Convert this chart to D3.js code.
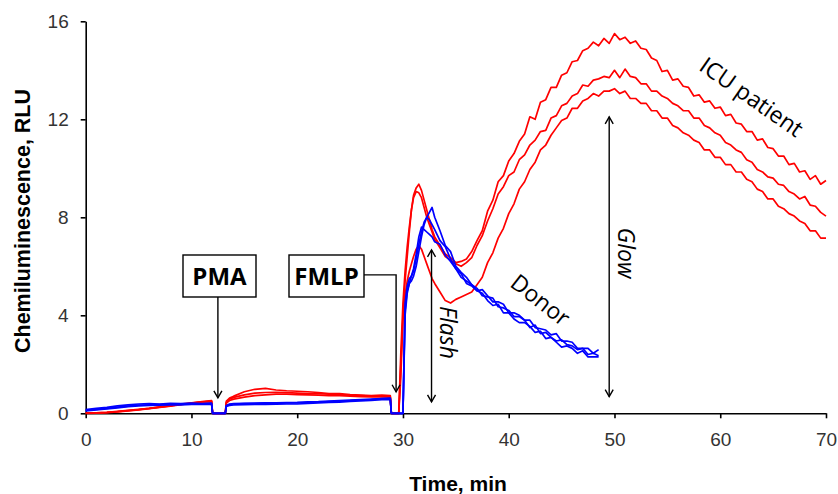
<!DOCTYPE html>
<html><head><meta charset="utf-8">
<script src="https://cdn.jsdelivr.net/npm/d3@7"></script>
<style>body{margin:0;background:#fff}svg{display:block}</style>
</head><body><svg id="c" width="838" height="494"></svg>
<script>
// ---- DATA ----
const time = [0,1,2,3,4,5,6,7,8,9,10,11,11.9,12,13.2,13.3,13.6,14,15,16,17,18,19,20,21,22,23,24,25,26,27,28,28.8,28.9,
  29.6,29.8,30,30.2,30.4,30.6,30.8,31,31.25,31.5,31.75,32,32.25,32.5,32.75,33,
  33.5,34,34.5,35,35.5,36,36.5,37,37.5,38,38.5,39,39.5,40,40.5,41,41.5,42,42.5,43,43.5,44,44.5,45,45.5,46,46.5,47,47.5,48,48.5,
  49,49.5,50,50.5,51,51.5,52,52.5,53,53.5,54,54.5,55,55.5,56,56.5,57,57.5,58,58.5,59,59.5,60,60.5,61,61.5,62,62.5,63,63.5,64,64.5,65,65.5,66,66.5,67,67.5,68,68.5,69,69.5,70];

const icu1 = [0.02,0.02,0.04,0.08,0.12,0.16,0.2,0.25,0.3,0.36,0.42,0.48,0.52,0,0,0.5,0.62,0.7,0.88,0.98,1.02,0.95,0.92,0.9,0.88,0.85,0.8,0.8,0.76,0.74,0.72,0.74,0.72,0,
  0,1.5,4.0,5.4,6.4,7.4,8.3,8.9,9.2,9.35,9.1,8.7,8.3,7.9,7.5,7.2,
  6.85,6.5,6.35,6.15,6.2,6.3,6.6,7.05,7.45,8.25,8.7,9.45,9.7,10.3,10.6,11.1,11.4,12.1,12.0,12.7,12.8,13.3,13.3,13.8,13.9,14.35,14.4,14.8,14.9,15.15,15.0,
  15.3,15.1,15.5,15.25,15.35,15.1,15.2,14.9,14.85,14.5,14.4,13.95,14.0,13.6,13.65,13.35,13.3,12.95,13.0,12.7,12.75,12.45,12.5,12.15,12.2,11.85,11.8,11.5,11.5,11.15,11.2,10.85,10.8,10.5,10.5,10.15,10.2,9.85,9.9,9.55,9.7,9.35,9.5];

const icu2 = [0,0.01,0.03,0.06,0.1,0.14,0.19,0.24,0.29,0.35,0.41,0.46,0.5,0,0,0.45,0.58,0.65,0.75,0.82,0.85,0.86,0.84,0.82,0.8,0.8,0.78,0.76,0.74,0.72,0.7,0.7,0.68,0,
  0,2.5,4.5,5.8,6.8,7.6,8.3,8.8,9.05,9.0,8.8,8.4,8.0,7.7,7.4,7.1,
  6.75,6.4,6.25,6.1,6.0,6.15,6.35,6.85,7.25,7.85,8.35,8.95,9.25,9.7,9.85,10.35,10.55,10.95,11.15,11.5,11.55,12.05,12.15,12.55,12.65,12.95,13.05,13.4,13.35,13.6,13.65,
  13.75,13.7,14.0,13.7,14.05,13.75,13.7,13.45,13.45,13.15,13.15,12.95,12.85,12.65,12.55,12.35,12.35,12.05,12.05,11.75,11.65,11.45,11.35,11.05,10.95,10.75,10.65,10.35,10.25,9.95,9.85,9.65,9.6,9.35,9.3,9.05,8.95,8.75,8.85,8.5,8.45,8.2,8.05];

const icu3 = [0.01,0.02,0.04,0.07,0.11,0.15,0.2,0.26,0.31,0.38,0.43,0.47,0.48,0,0,0.42,0.52,0.58,0.66,0.72,0.75,0.78,0.78,0.76,0.75,0.74,0.72,0.72,0.7,0.68,0.67,0.68,0.66,0,
  0,2.0,3.8,4.8,5.4,5.8,6.1,6.4,6.7,6.85,6.7,6.4,6.1,5.8,5.5,5.3,
  4.95,4.6,4.5,4.65,4.75,4.85,4.95,5.25,5.55,6.15,6.55,7.15,7.55,8.15,8.55,9.15,9.45,9.95,10.25,10.75,10.95,11.35,11.65,11.95,12.05,12.45,12.45,12.75,12.85,13.05,12.95,
  13.15,13.15,13.25,13.05,13.15,12.85,12.85,12.65,12.65,12.35,12.35,12.05,12.05,11.75,11.65,11.45,11.35,11.15,11.05,10.75,10.75,10.45,10.45,10.15,10.15,9.85,9.85,9.55,9.45,9.15,9.05,8.75,8.75,8.45,8.35,8.15,8.05,7.85,7.75,7.45,7.45,7.15,7.15];

const donor1 = [0.15,0.2,0.24,0.3,0.34,0.38,0.4,0.38,0.41,0.4,0.42,0.4,0.42,0,0,0.3,0.36,0.38,0.4,0.4,0.42,0.4,0.42,0.42,0.44,0.45,0.48,0.5,0.52,0.55,0.56,0.6,0.6,0,
  0,0,0,4.2,5.0,5.3,5.4,5.6,6.0,6.6,7.2,7.7,8.0,8.2,8.4,8.0,
  7.45,6.85,6.6,6.0,5.75,5.55,5.25,5.1,4.8,4.75,4.7,4.35,4.3,4.2,3.95,3.95,3.8,3.5,3.6,3.25,3.3,3.1,2.95,3.0,2.8,2.75,2.6,2.65,2.4,2.45,2.35,
  null,null,null,null,null,null,null,null,null,null,null,null,null,null,null,null,null,null,null,null,null,null,null,null,null,null,null,null,null,null,null,null,null,null,null,null,null,null,null,null,null,null,null];

const donor2 = [0.1,0.14,0.18,0.22,0.27,0.3,0.32,0.33,0.34,0.34,0.36,0.36,0.37,0,0,0.28,0.32,0.34,0.35,0.36,0.36,0.37,0.38,0.38,0.4,0.42,0.44,0.46,0.49,0.51,0.53,0.56,0.57,0,
  0,0,0,4.5,5.2,5.5,5.6,5.8,6.3,6.9,7.4,7.8,8.0,7.9,7.7,7.5,
  7.05,6.8,6.3,5.9,5.7,5.3,5.2,5.0,4.9,4.6,4.4,4.45,4.1,4.1,3.85,3.7,3.7,3.55,3.3,3.35,3.05,3.1,2.9,2.7,2.75,2.65,2.45,2.55,2.3,2.3,2.3,
  null,null,null,null,null,null,null,null,null,null,null,null,null,null,null,null,null,null,null,null,null,null,null,null,null,null,null,null,null,null,null,null,null,null,null,null,null,null,null,null,null,null,null];

const donor3 = [0.12,0.16,0.2,0.25,0.29,0.33,0.35,0.36,0.37,0.38,0.38,0.39,0.4,0,0,0.32,0.38,0.4,0.41,0.42,0.43,0.43,0.44,0.45,0.47,0.48,0.5,0.52,0.54,0.56,0.58,0.6,0.62,0,
  0,0,0,4.0,4.9,5.3,5.6,5.9,6.5,7.2,7.6,7.5,7.4,7.3,7.2,7.0,
  6.9,6.45,6.2,5.9,5.55,5.4,5.25,5.0,5.05,4.8,4.55,4.55,4.45,4.1,4.1,4.0,3.8,3.8,3.5,3.45,3.4,3.2,3.25,2.95,2.95,2.9,2.65,2.65,2.65,2.45,2.6,
  null,null,null,null,null,null,null,null,null,null,null,null,null,null,null,null,null,null,null,null,null,null,null,null,null,null,null,null,null,null,null,null,null,null,null,null,null,null,null,null,null,null,null];

const icuSeries = [icu1, icu2, icu3];
const donorSeries = [donor1, donor2, donor3];
const xTicks = [0,10,20,30,40,50,60,70];
const yTicks = [0,4,8,12,16];
const xTitle = "Time, min";
const yTitle = "Chemiluminescence, RLU";

// ---- CHART ----
const svg = d3.select('#c');
svg.append('rect').attr('width',838).attr('height',494).attr('fill','#fff');
const x = d3.scaleLinear().domain([0,70]).range([85.7,826]);
const y = d3.scaleLinear().domain([0,16]).range([413.3,21.3]);

const tickFont = '"Liberation Sans", Arial, sans-serif';
const gx = svg.append('g').attr('transform',`translate(0,${y(0)})`)
  .call(d3.axisBottom(x).tickValues(xTicks).tickSize(5).tickSizeOuter(0).tickPadding(14));
const gy = svg.append('g').attr('transform',`translate(${x(0)},0)`)
  .call(d3.axisLeft(y).tickValues(yTicks).tickSize(5).tickSizeOuter(0).tickPadding(12));
[gx,gy].forEach(g=>{
  g.select('.domain').attr('stroke','#000').attr('stroke-width',1.6);
  g.selectAll('.tick line').attr('stroke','#000').attr('stroke-width',1.6);
  g.selectAll('.tick text').attr('font-family',tickFont).attr('font-size',19).attr('fill','#333');
});

svg.append('text').attr('x',458).attr('y',491).attr('text-anchor','middle')
  .attr('font-family',tickFont).attr('font-weight','bold').attr('font-size',21).attr('fill','#000').text(xTitle);
svg.append('text').attr('transform','translate(30,221) rotate(-90)').attr('text-anchor','middle')
  .attr('font-family',tickFont).attr('font-weight','bold').attr('font-size',21.5).attr('fill','#000').text(yTitle);

const line = d3.line().defined(d=>d[1]!=null).x(d=>x(d[0])).y(d=>y(d[1]));
const toPts = s => time.map((t,i)=>[t,s[i]]);
icuSeries.forEach(s=>{
  svg.append('path').attr('d',line(toPts(s))).attr('fill','none').attr('stroke','#ff0000')
    .attr('stroke-width',1.7).attr('stroke-linejoin','round');
});
donorSeries.forEach(s=>{
  svg.append('path').attr('d',line(toPts(s))).attr('fill','none').attr('stroke','#0000ff')
    .attr('stroke-width',1.7).attr('stroke-linejoin','round');
});

// ---- ANNOTATIONS ----
const ann = svg.append('g').attr('stroke','#000').attr('fill','none').attr('stroke-width',1.4);
function head(px,py,dir){ // dir: 1 down, -1 up
  ann.append('path').attr('d',`M${px-4},${py-7*dir} L${px},${py} L${px+4},${py-7*dir}`);
}
function vArrow(t, v1, v2, both){
  const px=x(t), y1=y(v1), y2=y(v2);
  ann.append('line').attr('x1',px).attr('x2',px).attr('y1',y1).attr('y2',y2);
  head(px,y2,1);
  if(both) head(px,y1,-1);
}
const boxFont = '"Open Sans", sans-serif';
function box(x0,y0,w,h,label){
  svg.append('rect').attr('x',x0).attr('y',y0).attr('width',w).attr('height',h)
    .attr('fill','#fff').attr('stroke','#000').attr('stroke-width',1.4);
  svg.append('text').attr('x',x0+w/2).attr('y',y0+h/2).attr('dy','0.36em').attr('text-anchor','middle')
    .attr('font-family',boxFont).attr('font-weight','bold').attr('font-size',24).attr('fill','#000').text(label);
}
// PMA
vArrow(12.5, 4.75, 0.63, false);
box(183,255,73,42,'PMA');
// FMLP
ann.append('path').attr('d',`M364,${y(5.65)} H${x(29.35)} V${y(0.88)}`);
head(x(29.35),y(0.88),1);
box(289,255,75,42,'FMLP');
// Flash
vArrow(32.7, 6.67, 0.47, true);
// Glow
vArrow(49.5, 12.1, 0.68, false);
head(x(49.5),y(12.1),-1);

const annFont = '"Open Sans", sans-serif';
function label(txt,cx,cy,rot,italic){
  svg.append('text').attr('transform',`translate(${cx},${cy}) rotate(${rot})`)
    .attr('text-anchor','middle').attr('dy','0.35em')
    .attr('font-family',annFont).attr('font-size',23).attr('fill','#000')
    .attr('font-style',italic?'italic':'normal').text(txt);
}
label('Flash',448.5,332.5,90,true);
label('Glow',626,253,90,true);
label('Donor',540.5,300,38,false);
label('ICU patient',751.5,97,35,false);
</script></body></html>
